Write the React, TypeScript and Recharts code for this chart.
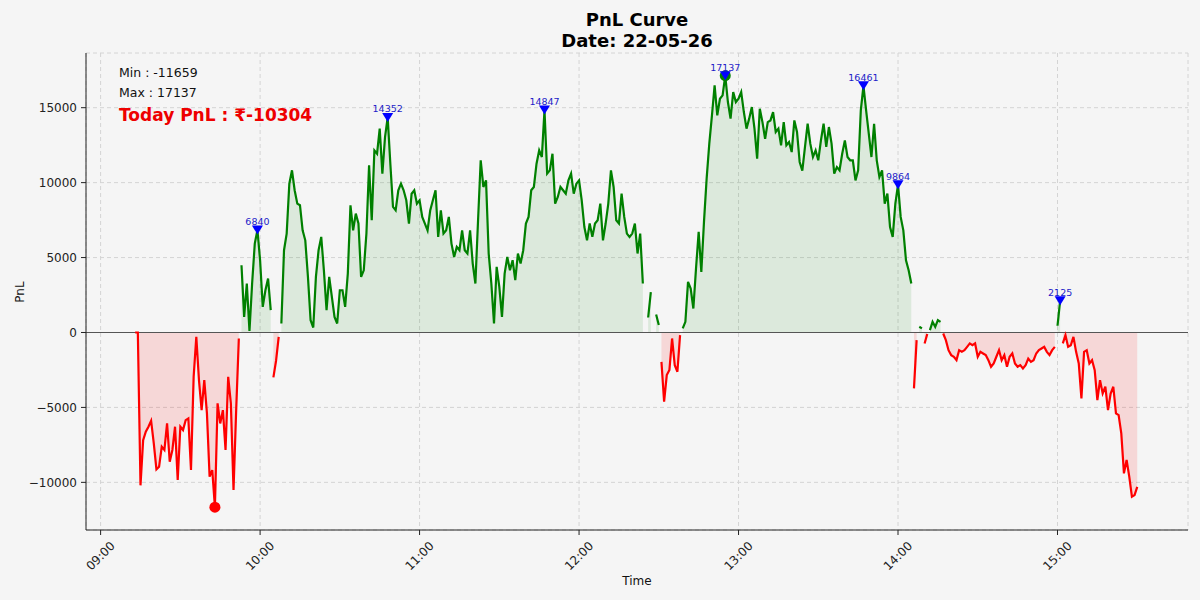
import React from 'react'
import {
  ComposedChart,
  Line,
  Area,
  Scatter,
  XAxis,
  YAxis,
  CartesianGrid,
  ReferenceLine,
} from 'recharts'

// Session starts at 09:13, one PnL reading per minute until 15:30
const START_MINUTE = 9 * 60 + 13

const pnl: number[] = [
  // 09:13
  0, 0, -10200, -7180, -6620, -6290, -5890, -7400, -9130, -8960,
  // 09:23
  -7620, -7840, -6070, -8620, -7840, -6290, -9840, -6290, -6510, -5850,
  // 09:33
  -5740, -9180, -2960, -290, -3180, -5180, -3180, -5400, -9620, -9180,
  // 09:43
  -11659, -4730, -6070, -5180, -7840, -2960, -4730, -10510, -5180, -400,
  // 09:53
  4490, 1040, 3270, 100, 3270, 5930, 6840, 4820, 1710, 2820,
  // 10:03
  3600, 1490, -3000, -1900, -300, 600, 5490, 6600, 9930, 10820,
  // 10:13
  9490, 8600, 8490, 6820, 6150, 3710, 820, 330, 3710, 5490,
  // 10:23
  6380, 4150, 1490, 3710, 2380, 1040, 600, 2820, 2820, 1710,
  // 10:33
  3930, 8490, 6820, 7930, 7270, 3710, 4150, 6600, 11150, 7490,
  // 10:43
  12150, 11930, 13600, 10600, 13040, 14352, 11260, 8380, 8150, 9490,
  // 10:53
  9930, 9490, 8820, 7270, 9260, 9490, 8600, 8820, 7710, 7270,
  // 11:03
  6820, 8150, 8820, 9490, 6380, 8150, 6600, 6820, 7710, 5930,
  // 11:13
  5040, 5710, 5490, 6820, 5490, 5270, 6820, 4600, 3270, 7490,
  // 11:23
  11490, 9710, 10150, 5270, 3270, 600, 4380, 3040, 1040, 3930,
  // 11:33
  5040, 4150, 4820, 3490, 5270, 4600, 5490, 7270, 7710, 9490,
  // 11:43
  9710, 11260, 12150, 11710, 14847, 10600, 10820, 11930, 8600, 9040,
  // 11:53
  9710, 9490, 9260, 10150, 10600, 9260, 9930, 10150, 8820, 7040,
  // 12:03
  6150, 7270, 6380, 7270, 7490, 8600, 6150, 7270, 8600, 10820,
  // 12:13
  9710, 7490, 7270, 9260, 7710, 6600, 6380, 6600, 7270, 5270,
  // 12:23
  6600, 3270, -800, 1000, 2700, -1300, 1200, 500, -1960, -4620,
  // 12:33
  -2840, -2500, -400, -2180, -2620, -180, 270, 710, 3380, 2930,
  // 12:43
  1600, 4260, 6710, 4040, 7380, 10270, 12600, 14490, 16490, 14490,
  // 12:53
  15600, 15820, 17137, 15380, 14270, 16040, 15380, 15600, 16040, 14710,
  // 13:03
  13600, 14270, 15040, 13600, 11600, 14930, 14040, 12930, 14040, 14150,
  // 13:13
  14710, 13380, 13600, 12490, 14040, 12490, 12710, 12040, 14150, 13380,
  // 13:23
  11380, 10800, 12380, 13930, 12600, 11710, 12150, 11490, 12820, 13930,
  // 13:33
  12380, 13710, 12600, 10600, 11040, 10820, 11930, 12820, 11710, 11490,
  // 13:43
  11490, 10150, 10820, 14820, 16461, 14820, 13270, 11710, 13930, 11490,
  // 13:53
  10380, 10820, 8600, 9270, 7040, 6380, 8600, 9864, 7710, 6820,
  // 14:03
  4820, 4150, 3270, -3730, -510, 380, 270, -730, -100, 160,
  // 14:13
  710, 380, 820, 710, -70, -510, -1180, -1510, -1620, -1840,
  // 14:23
  -1180, -1290, -1180, -960, -730, -850, -730, -1620, -1290, -1400,
  // 14:33
  -1510, -1850, -2290, -2070, -1620, -1180, -1850, -1510, -2290, -1620,
  // 14:43
  -1400, -2070, -2290, -2180, -2400, -2180, -1740, -1960, -1850, -1400,
  // 14:53
  -1180, -1070, -960, -1290, -1510, -1180, -960, 450, 2125, -730,
  // 15:03
  -180, -960, -850, -290, -1290, -2070, -4400, -1290, -1180, -2070,
  // 15:13
  -1850, -2510, -4510, -3180, -4070, -3620, -5180, -4070, -3620, -5400,
  // 15:23
  -5510, -6730, -9400, -8510, -9620, -10960, -10850, -10304,
]

const peakTimes = ['09:59', '10:48', '11:47', '12:55', '13:47', '14:00', '15:01']
const peakValues = [6840, 14352, 14847, 17137, 16461, 9864, 2125]

const minTime = '09:43'
const minValue = -11659
const maxTime = '12:55'
const maxValue = 17137
const todayPnl = -10304

const xTicks = ['09:00', '10:00', '11:00', '12:00', '13:00', '14:00', '15:00']
const yTicks = [-10000, -5000, 0, 5000, 10000, 15000]

const FONT = '"DejaVu Sans", Verdana, sans-serif'

const toMinutes = (hhmm: string) => {
  const [h, m] = hhmm.split(':').map(Number)
  return h * 60 + m
}
const fmtTime = (min: number) =>
  `${String(Math.floor(min / 60)).padStart(2, '0')}:${String(Math.round(min % 60)).padStart(2, '0')}`
const fmtY = (v: number) => (v < 0 ? `\u2212${Math.abs(v)}` : String(v))

const rows = pnl.map((v, i) => ({
  t: START_MINUTE + i,
  pos: v > 0 ? v : null,
  neg: v <= 0 ? v : null,
}))
const peakRows = peakTimes.map((t, i) => ({ t: toMinutes(t), v: peakValues[i] }))
const minRow = [{ t: toMinutes(minTime), v: minValue }]
const maxRow = [{ t: toMinutes(maxTime), v: maxValue }]

function XTick({ x, y, payload }: any) {
  return (
    <text
      transform={`translate(${x},${y + 19}) rotate(-45)`}
      textAnchor="middle"
      dominantBaseline="central"
      fill="#222"
      fontSize={12}
      fontFamily={FONT}
    >
      {fmtTime(payload.value)}
    </text>
  )
}

function PeakMarker({ cx, cy, payload }: any) {
  return (
    <g>
      <polygon points={`${cx - 5.5},${cy - 4.5} ${cx + 5.5},${cy - 4.5} ${cx},${cy + 4.5}`} fill="#0000ff" />
      <text x={cx} y={cy - 5} textAnchor="middle" fontSize={9.5} fontFamily={FONT} fill="#1c1cc8">
        {payload.v}
      </text>
    </g>
  )
}

export default function App() {
  return (
    <div
      style={{
        position: 'fixed',
        left: 0,
        top: 0,
        width: 1200,
        height: 600,
        background: '#f5f5f5',
      }}
    >
      <ComposedChart
        width={1200}
        height={600}
        data={rows}
        margin={{ top: 53, right: 12, bottom: 10, left: 16 }}
      >
        <CartesianGrid stroke="#d4d4d4" strokeDasharray="4 3" />
        <XAxis
          dataKey="t"
          type="number"
          domain={[534.5, 949.1]}
          allowDataOverflow
          ticks={xTicks.map(toMinutes)}
          tick={<XTick />}
          height={60}
          tickSize={5}
          tickMargin={2}
          axisLine={{ stroke: '#222' }}
          tickLine={{ stroke: '#222' }}
        />
        <YAxis
          type="number"
          domain={[-13180, 18650]}
          allowDataOverflow
          ticks={yTicks}
          tickFormatter={fmtY}
          width={70}
          tickSize={5}
          tickMargin={4}
          tick={{ fill: '#222', fontSize: 12, fontFamily: FONT }}
          axisLine={{ stroke: '#222' }}
          tickLine={{ stroke: '#222' }}
        />
        <Area
          type="linear"
          dataKey="pos"
          baseValue={0}
          stroke="none"
          fill="#008000"
          fillOpacity={0.1}
          dot={false}
          activeDot={false}
          isAnimationActive={false}
        />
        <Area
          type="linear"
          dataKey="neg"
          baseValue={0}
          stroke="none"
          fill="#ff0000"
          fillOpacity={0.12}
          dot={false}
          activeDot={false}
          isAnimationActive={false}
        />
        <ReferenceLine y={0} stroke="#555" strokeWidth={1.2} />
        <Line
          type="linear"
          dataKey="pos"
          stroke="#008000"
          strokeWidth={2.2}
          dot={false}
          activeDot={false}
          isAnimationActive={false}
        />
        <Line
          type="linear"
          dataKey="neg"
          stroke="#ff0000"
          strokeWidth={2.2}
          dot={false}
          activeDot={false}
          isAnimationActive={false}
        />
        <Scatter data={minRow} dataKey="v" fill="#ff0000" shape={(p: any) => <circle cx={p.cx} cy={p.cy} r={5.5} fill="#ff0000" />} isAnimationActive={false} />
        <Scatter data={maxRow} dataKey="v" fill="#008000" shape={(p: any) => <circle cx={p.cx} cy={p.cy} r={5.5} fill="#008000" />} isAnimationActive={false} />
        <Scatter data={peakRows} dataKey="v" fill="#0000ff" shape={<PeakMarker />} isAnimationActive={false} />
      </ComposedChart>

      <svg
        width={1200}
        height={600}
        style={{ position: 'absolute', left: 0, top: 0, pointerEvents: 'none' }}
        fontFamily={FONT}
      >
        <text x={637} y={26} textAnchor="middle" fontSize={18} fontWeight="bold" fill="#000">
          PnL Curve
        </text>
        <text x={637} y={47} textAnchor="middle" fontSize={18} fontWeight="bold" fill="#000">
          Date: 22-05-26
        </text>
        <text x={119} y={77} fontSize={12.5} fill="#111">
          Min : {minValue}
        </text>
        <text x={119} y={97} fontSize={12.5} fill="#111">
          Max : {maxValue}
        </text>
        <text x={119} y={121} fontSize={17} fontWeight="bold" fill="#ee0000">
          Today PnL : ₹{todayPnl}
        </text>
        <text transform="translate(24,292) rotate(-90)" textAnchor="middle" fontSize={12} fill="#111">
          PnL
        </text>
        <text x={637} y={585} textAnchor="middle" fontSize={12} fill="#111">
          Time
        </text>
      </svg>
    </div>
  )
}
